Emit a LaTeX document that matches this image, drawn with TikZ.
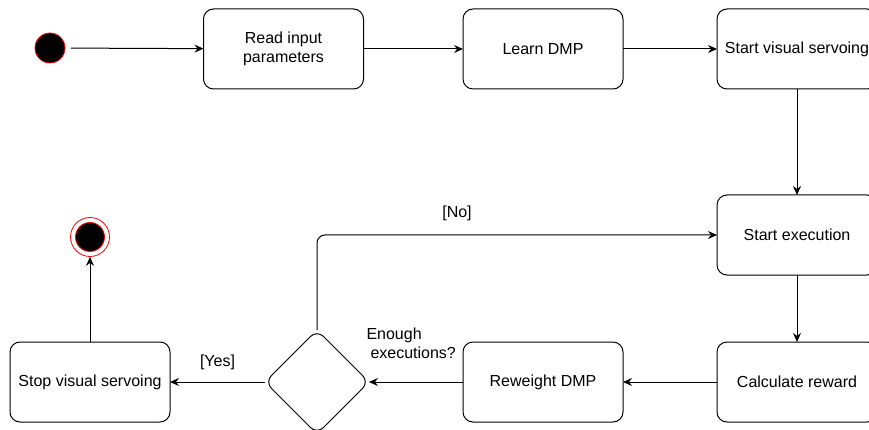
\documentclass[tikz,border=0pt]{standalone}
\usepackage{fontspec}
\setmainfont{Liberation Sans}
\usetikzlibrary{arrows.meta,shapes.geometric}

\tikzset{
  actbox/.style={draw, rounded corners=10pt, minimum width=160pt, minimum height=80pt, align=center, outer sep=0pt},
  choice/.style={draw, diamond, rounded corners=9pt, minimum width=104pt, minimum height=104pt, outer sep=0pt},
  flow/.style={-{Stealth[length=9pt,width=8pt,inset=3pt]}},
}

\begin{document}
\begin{tikzpicture}[x=1pt,y=-1pt, line width=1pt, font=\fontsize{16}{19}\selectfont]
   \clip (0,0) rectangle (869,430);

   % start and end
   \node[circle, draw=red, fill=black, minimum size=30pt, inner sep=0pt, line width=0.8pt, outer sep=6pt] (init) at (50,48) {};
   \node[circle, draw=red, minimum size=39pt, inner sep=0pt, line width=0.8pt] (final) at (90,237) {};
   \fill[black, draw=red, line width=0.8pt] (final.center) circle (14.5pt);

   % top row
   \node[actbox] (read) at (283.5,49) {Read input\\parameters};
   \node[actbox] (learn) at (543,49) {Learn DMP};
   \node[actbox] (startvs) at (797,49) {Start visual servoing};

   % right column and bottom row
   \node[actbox] (startexec) at (797,235) {Start execution};
   \node[actbox] (reward) at (797,382) {Calculate reward};
   \node[actbox] (reweight) at (543,382) {Reweight DMP};
   \node[choice] (enough) at (317,382) {};
   \node[actbox] (stopvs) at (90,382) {Stop visual servoing};

   \node[align=left, anchor=north west, inner sep=0pt] (question) at (366,327) {Enough\\\hspace{4pt}executions?};

   \draw[flow] (init) -- (read);
   \draw[flow] (read) -- (learn);
   \draw[flow] (learn) -- (startvs);
   \draw[flow] (startvs) -- (startexec);
   \draw[flow] (startexec) -- (reward);
   \draw[flow] (reward) -- (reweight);
   \draw[flow] (reweight) -- (enough);
   \draw[flow] (enough) -- node[above=8pt] (yes) {[Yes]} (stopvs);
   \draw[flow, rounded corners=8pt] (enough.north) |- node[pos=0.675, above=10pt] (no) {[No]} (startexec.west);
   \draw[flow] (stopvs) -- (final);
 \end{tikzpicture}
\end{document}
